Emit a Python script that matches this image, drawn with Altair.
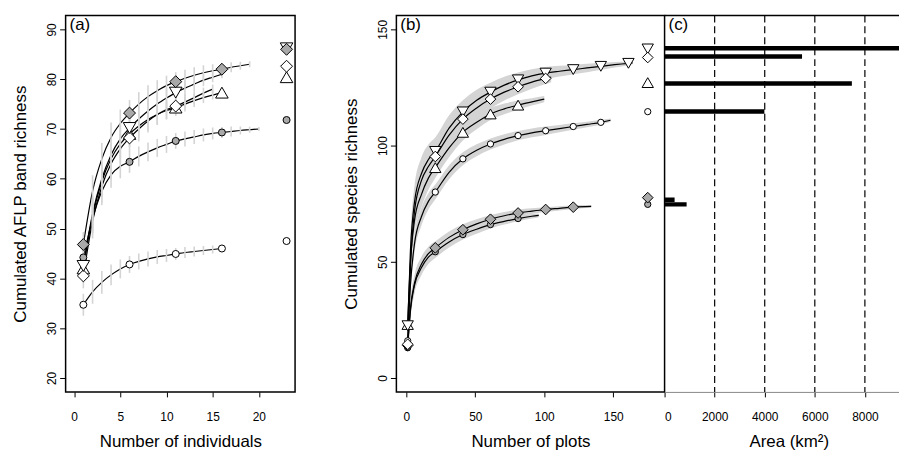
import altair as alt
import pandas as pd

FONT = "Liberation Sans"
GREY = "#a9a9a9"
LIGHT = "#d4d4d4"

# ---------------- Panel (a): AFLP band richness vs number of individuals ----------------
a_x_gd = list(range(1, 20))
a_y_gd = [46.8, 57.5, 64.0, 68.3, 71.1, 73.2, 75.0, 76.5, 77.7, 78.7, 79.5, 80.2, 80.8, 81.3, 81.7, 82.0, 82.4, 82.7, 83.0]
a_sd_gd = [2.5, 3.2, 3.2, 3.0, 2.8, 2.6, 2.4, 2.3, 2.1, 2.0, 1.9, 1.7, 1.6, 1.5, 1.3, 1.2, 1.0, 0.8, 0.6]

a_x_dt = list(range(1, 17))
a_y_dt = [42.5, 53.0, 60.0, 64.8, 68.0, 70.2, 72.0, 73.6, 75.0, 76.2, 77.3, 78.2, 79.0, 79.8, 80.4, 81.0]
a_sd_dt = [2.5, 3.5, 3.4, 3.2, 3.0, 2.8, 2.6, 2.4, 2.2, 2.0, 1.8, 1.6, 1.4, 1.2, 1.0, 0.8]

a_x_wd = list(range(1, 16))
a_y_wd = [40.5, 51.5, 58.5, 63.0, 66.0, 68.2, 70.0, 71.6, 72.9, 73.9, 74.6, 75.4, 76.3, 77.2, 78.0]
a_sd_wd = [2.5, 3.5, 3.3, 3.1, 2.9, 2.7, 2.5, 2.3, 2.1, 1.9, 1.7, 1.5, 1.3, 1.1, 0.9]

a_x_ut = list(range(1, 17))
a_y_ut = [42.0, 52.5, 59.5, 64.0, 67.0, 69.0, 70.6, 71.9, 72.9, 73.7, 74.3, 75.0, 75.7, 76.3, 76.8, 77.3]
a_sd_ut = [2.5, 3.4, 3.2, 3.0, 2.8, 2.6, 2.4, 2.2, 2.0, 1.8, 1.7, 1.5, 1.3, 1.1, 0.9, 0.7]

a_x_gc = list(range(1, 21))
a_y_gc = [44.2, 52.0, 57.5, 60.8, 62.5, 63.4, 64.5, 65.4, 66.2, 66.9, 67.6, 68.0, 68.4, 68.8, 69.1, 69.3, 69.5, 69.7, 69.85, 70.0]
a_sd_gc = [2.5, 3.0, 2.8, 2.6, 2.4, 2.2, 2.0, 1.9, 1.8, 1.7, 1.6, 1.5, 1.4, 1.3, 1.2, 1.1, 1.0, 0.8, 0.6, 0.4]

a_x_wc = list(range(1, 17))
a_y_wc = [34.7, 37.3, 39.2, 40.7, 41.9, 42.8, 43.4, 43.9, 44.3, 44.6, 44.9, 45.2, 45.4, 45.6, 45.8, 46.0]
a_sd_wc = [2.2, 2.4, 2.3, 2.1, 1.9, 1.7, 1.6, 1.5, 1.4, 1.3, 1.2, 1.1, 1.0, 0.9, 0.8, 0.6]

a_mark_x_long = [1, 6, 11, 16]
a_mark_x_short = [1, 6, 11]
a_total_x = 23
a_total = {"gd": 86.0, "dt": 86.2, "wd": 82.6, "ut": 80.4, "gc": 71.8, "wc": 47.5}

# ---------------- Panel (b): species richness vs number of plots ----------------
b_x_dt = [1, 3, 6, 11, 16, 21, 31, 41, 51, 61, 71, 81, 91, 101, 111, 121, 131, 141, 151, 161, 164]
b_y_dt = [22.5, 55, 76, 88, 94, 97.5, 107.5, 114.5, 119.5, 123, 126, 128.3, 130, 131.2, 132, 132.7, 133.4, 134.1, 134.8, 135.4, 135.6]
b_sd_dt = [3, 6, 7, 7, 6.5, 6, 5.5, 5, 4.5, 4, 3.6, 3.2, 2.9, 2.6, 2.3, 2, 1.8, 1.5, 1.2, 0.8, 0.6]

b_x_wd = [1, 3, 6, 11, 16, 21, 31, 41, 51, 61, 71, 81, 91, 101, 105]
b_y_wd = [14.5, 48, 72, 85, 91, 95.3, 104.5, 111.4, 116.2, 120, 123, 125.3, 127.3, 128.9, 129.5]
b_sd_wd = [3, 6, 7, 7, 6.5, 6, 5.5, 5, 4.5, 4, 3.6, 3.2, 2.8, 2.4, 2.2]

b_x_ut = [1, 3, 6, 11, 16, 21, 31, 41, 51, 61, 71, 81, 91, 100]
b_y_ut = [23, 50, 68, 79, 86, 90.5, 99, 105.7, 110, 113.6, 115.8, 117.4, 118.8, 120]
b_sd_ut = [3, 5, 5.5, 5.5, 5, 4.5, 4, 3.5, 3, 2.6, 2.3, 2, 1.6, 1.3]

b_x_wc = [1, 3, 6, 11, 16, 21, 31, 41, 51, 61, 71, 81, 91, 101, 111, 121, 131, 141, 148]
b_y_wc = [16, 40, 58, 69.5, 76, 80, 88.5, 94.3, 98, 100.7, 102.7, 104.3, 105.5, 106.4, 107.3, 108.2, 109.1, 110, 110.9]
b_sd_wc = [2.5, 3.5, 4, 3.8, 3.5, 3.2, 3, 2.8, 2.6, 2.4, 2.2, 2, 1.9, 1.8, 1.6, 1.4, 1.2, 1, 0.8]

b_x_gd = [1, 3, 6, 11, 16, 21, 31, 41, 51, 61, 71, 81, 91, 101, 111, 121, 134]
b_y_gd = [14, 30, 41, 49, 53.5, 56, 60.5, 63.8, 66.3, 68.3, 69.8, 71, 71.8, 72.5, 73, 73.5, 73.8]
b_sd_gd = [2.5, 3.5, 3.5, 3.2, 3, 2.8, 2.5, 2.3, 2, 1.8, 1.6, 1.4, 1.2, 1, 0.9, 0.8, 0.6]

b_x_gc = [1, 3, 6, 11, 16, 21, 31, 41, 51, 61, 71, 81, 91, 96]
b_y_gc = [13, 29, 40, 47.5, 52, 54.3, 58.5, 61.7, 64, 66, 67.4, 68.6, 69.6, 70]
b_sd_gc = [2.5, 3.5, 3.5, 3.2, 3, 2.7, 2.4, 2.1, 1.9, 1.7, 1.4, 1.2, 1, 0.8]

b_mark_x = [1, 21, 41, 61, 81, 101, 121, 141, 161]
b_total_x = 175
b_total = {"dt": 141.6, "wd": 137.9, "ut": 127.1, "wc": 114.6, "gd": 77.6, "gc": 74.7}

# ---------------- Panel (c): area ----------------
c_rich = [141.9, 138.3, 126.7, 114.7, 76.7, 74.7]
c_area = [12000, 5490, 7480, 3985, 400, 880]
c_grid = [2000, 4000, 6000, 8000]
c_ticks = [0, 2000, 4000, 6000, 8000]

# ---------------- helpers ----------------
def curve_df(xs, ys, sds):
    df = pd.DataFrame({"x": xs, "y": ys, "sd": sds})
    df["lo"] = df["y"] - df["sd"]
    df["hi"] = df["y"] + df["sd"]
    return df

SHAPES = {
    "gd": ("diamond", GREY),
    "dt": ("triangle-down", "white"),
    "wd": ("diamond", "white"),
    "ut": ("triangle-up", "white"),
    "gc": ("circle", GREY),
    "wc": ("circle", "white"),
}

A_W, B_W, C_W, H = 231, 270, 243, 379

ax_common = dict(tickSize=6, tickColor="black", labelColor="black", titleColor="black",
                 domain=False, grid=False, labelFontSize=12, titleFontSize=17,
                 titleFontWeight="normal", labelFont=FONT, titleFont=FONT)

def y_axis(title, values):
    return alt.Axis(values=values, title=title, labelAngle=270, labelAlign="center",
                    labelBaseline="bottom", labelPadding=1, titlePadding=16,
                    minExtent=20, maxExtent=20, **ax_common)

X_EXT = dict(labelAngle=0, labelPadding=14.5, titlePadding=6, minExtent=36, maxExtent=36)

def x_axis(title, values):
    return alt.Axis(values=values, title=title, **X_EXT, **{**ax_common, "tickSize": 5})

def panel(series, xscale, yscale, xax, yax, sizes, total_x, totals, kind, label):
    X = lambda f: alt.X(f, scale=xscale, axis=xax)
    Y = lambda f: alt.Y(f, scale=yscale, axis=yax)
    under, lines, over, marks = [], [], [], []
    for key, xs, ys, sds, mx in series:
        df = curve_df(xs, ys, sds)
        shape, fill = SHAPES[key]
        if kind == "band":
            under.append(alt.Chart(df).mark_area(color=LIGHT, interpolate="monotone")
                         .encode(x=X("x:Q"), y=Y("lo:Q"), y2="hi:Q"))
        else:
            over.append(alt.Chart(df).mark_rule(color=LIGHT, strokeWidth=1.6)
                        .encode(x=X("x:Q"), y=Y("lo:Q"), y2="hi:Q"))
        lines.append(alt.Chart(df).mark_line(color="black", strokeWidth=1.2, interpolate="monotone")
                     .encode(x=X("x:Q"), y=Y("y:Q")))
        pts = df[df["x"].isin(mx)]
        marks.append(alt.Chart(pts).mark_point(shape=shape, filled=True, fill=fill, stroke="black",
                                               strokeWidth=1, opacity=1, size=sizes[shape])
                     .encode(x=X("x:Q"), y=Y("y:Q")))
        tot = pd.DataFrame({"x": [total_x], "y": [totals[key]]})
        marks.append(alt.Chart(tot).mark_point(shape=shape, filled=True, fill=fill, stroke="black",
                                               strokeWidth=1, opacity=1, size=sizes[shape])
                     .encode(x=X("x:Q"), y=Y("y:Q")))
    lab = alt.Chart(pd.DataFrame({"t": [label]})).mark_text(
        align="left", baseline="middle", fontSize=17, font=FONT, color="black"
    ).encode(text="t:N", x=alt.value(4), y=alt.value(10))
    return alt.layer(*under, *lines, *over, *marks, lab)

# ---------------- panel (a) ----------------
a_series = [
    ("wc", a_x_wc, a_y_wc, a_sd_wc, a_mark_x_long),
    ("gc", a_x_gc, a_y_gc, a_sd_gc, a_mark_x_long),
    ("ut", a_x_ut, a_y_ut, a_sd_ut, a_mark_x_long),
    ("wd", a_x_wd, a_y_wd, a_sd_wd, a_mark_x_short),
    ("dt", a_x_dt, a_y_dt, a_sd_dt, a_mark_x_short),
    ("gd", a_x_gd, a_y_gd, a_sd_gd, a_mark_x_long),
]
a_xs = alt.Scale(domain=[-0.92, 23.92], nice=False, zero=False)
a_ys = alt.Scale(domain=[17.2, 92.8], nice=False, zero=False)
a_chart = panel(a_series, a_xs, a_ys,
                x_axis("Number of individuals", [0, 5, 10, 15, 20]),
                y_axis("Cumulated AFLP band richness", [20, 30, 40, 50, 60, 70, 80, 90]),
                {"diamond": 144, "triangle-up": 160, "triangle-down": 160, "circle": 50},
                a_total_x, a_total, "bar", "(a)").properties(width=A_W, height=H)

# ---------------- panel (b) ----------------
b_series = [
    ("gc", b_x_gc, b_y_gc, b_sd_gc, b_mark_x),
    ("gd", b_x_gd, b_y_gd, b_sd_gd, b_mark_x),
    ("wc", b_x_wc, b_y_wc, b_sd_wc, b_mark_x),
    ("ut", b_x_ut, b_y_ut, b_sd_ut, b_mark_x),
    ("dt", b_x_dt, b_y_dt, b_sd_dt, b_mark_x),
    ("wd", b_x_wd, b_y_wd, b_sd_wd, b_mark_x),
]
b_xs = alt.Scale(domain=[-7.2, 187.2], nice=False, zero=False)
b_ys = alt.Scale(domain=[-6, 156], nice=False, zero=False)
b_chart = panel(b_series, b_xs, b_ys,
                x_axis("Number of plots", [0, 50, 100, 150]),
                y_axis("Cumulated species richness", [0, 50, 100, 150]),
                {"diamond": 115, "triangle-up": 130, "triangle-down": 130, "circle": 40},
                b_total_x, b_total, "band", "(b)").properties(width=B_W, height=H)

# ---------------- panel (c) ----------------
c_xs = alt.Scale(domain=[0, 9640], nice=False, zero=False)
c_ax = alt.Axis(values=c_ticks, format="d", title="Area (km²)", titleX=125,
                **X_EXT, **{**ax_common, "tickSize": 5, "domain": True})
c_df = pd.DataFrame({"rich": c_rich, "area": c_area, "x0": [0] * len(c_area)})
c_grid_l = alt.Chart(pd.DataFrame({"g": c_grid})).mark_rule(
    color="black", strokeWidth=1.2, strokeDash=[7, 4]
).encode(x=alt.X("g:Q", scale=c_xs, axis=c_ax))
c_bars = alt.Chart(c_df).mark_rule(color="black", strokeWidth=4.5, clip=True).encode(
    x=alt.X("x0:Q", scale=c_xs, axis=c_ax), x2="area:Q",
    y=alt.Y("rich:Q", scale=b_ys, axis=None))
c_top = alt.Chart(pd.DataFrame({"k": [0]})).mark_rule(color="black", strokeWidth=1.5).encode(
    y=alt.value(0), x=alt.value(0), x2=alt.value(C_W))
c_lab = alt.Chart(pd.DataFrame({"t": ["(c)"]})).mark_text(
    align="left", baseline="middle", fontSize=17, font=FONT, color="black"
).encode(text="t:N", x=alt.value(4), y=alt.value(10))
c_chart = alt.layer(c_grid_l, c_bars, c_top, c_lab).properties(
    width=C_W, height=H, view=alt.ViewBackground(strokeOpacity=0))

inner = alt.hconcat(b_chart, c_chart, spacing=0, bounds="flush")
chart = alt.hconcat(a_chart, inner, spacing=46).properties(
    padding={"left": 3, "top": 5, "right": -8, "bottom": 0}
).configure(font=FONT).configure_view(stroke="black", strokeWidth=1.5)

chart.save("out.html", embed_options={"renderer": "svg", "actions": False})
